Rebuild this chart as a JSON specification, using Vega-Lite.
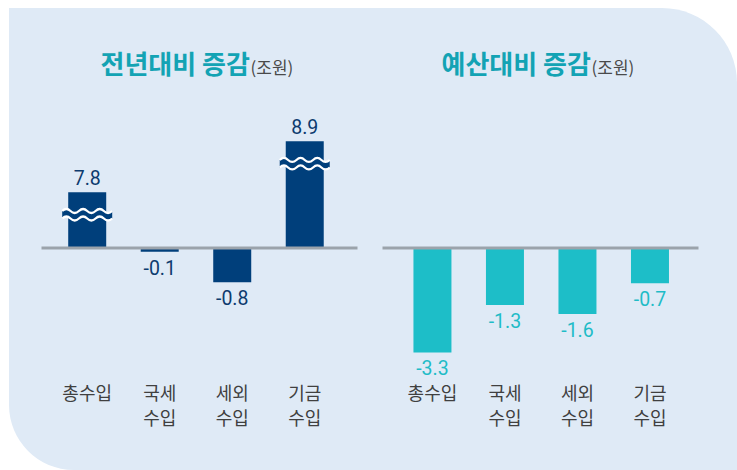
{
  "$schema": "https://vega.github.io/schema/vega-lite/v6.json",
  "width": 728,
  "height": 462,
  "padding": {"left": 9, "top": 8, "right": 0, "bottom": 0},
  "autosize": "none",
  "background": "white",
  "config": {
    "view": {"fill": "#dfeaf6", "stroke": null},
    "style": {"cell": {"fill": "#dfeaf6", "stroke": null, "cornerRadiusTopRight": 75, "cornerRadiusBottomLeft": 65}},
    "font": "Noto Sans CJK KR"
  },
  "datasets": {
    "prev": [
      {"cat": "총수입", "value": 7.8},
      {"cat": "국세수입", "value": -0.1},
      {"cat": "세외수입", "value": -0.8},
      {"cat": "기금수입", "value": 8.9}
    ],
    "budget": [
      {"cat": "총수입", "value": -3.3},
      {"cat": "국세수입", "value": -1.3},
      {"cat": "세외수입", "value": -1.6},
      {"cat": "기금수입", "value": -0.7}
    ]
  },
  "layer": [
    {
      "data": {"name": "prev"},
      "encoding": {
        "x": {
          "field": "cat", "type": "nominal", "sort": null,
          "scale": {"domain": ["총수입", "국세수입", "세외수입", "기금수입"], "range": [32, 348], "paddingInner": 0.476, "paddingOuter": 0.417, "align": 0.45},
          "axis": {
            "orient": "bottom", "offset": -222.5, "zindex": 1, "grid": false,
            "domain": true, "domainColor": "#9ba3ab", "domainWidth": 3, "domainCap": "butt",
            "ticks": false, "tickSize": 0,
            "labelPadding": 138, "labelFont": "Noto Sans CJK KR", "labelFontSize": 18, "labelColor": "#404040", "labelLineHeight": 25, "labelOverlap": false, "labelBound": false, "labelAngle": 0, "labelBaseline": "top",
            "labelExpr": "length(datum.value) == 4 ? [substring(datum.value, 0, 2), substring(datum.value, 2, 4)] : datum.value",
            "title": "전년대비 증감", "titleFont": "Noto Sans CJK KR", "titleFontSize": 26, "titleFontWeight": "bold", "titleColor": "#13a3b4",
            "titleX": 91, "titleY": -174.5, "titleAlign": "left", "titleBaseline": "alphabetic", "titleAngle": 0
          }
        },
        "y": {
          "field": "value", "type": "quantitative",
          "scale": {"domain": [-5.127, 0, 6.61, 11.77], "range": [462, 239.5, 239.5, 0], "zero": false, "nice": false},
          "axis": {
            "orient": "left", "domain": false, "ticks": false, "labels": false, "grid": false,
            "title": "(조원)", "titleFont": "Noto Sans CJK KR", "titleFontSize": 17, "titleFontWeight": "normal", "titleColor": "#4a4a4a",
            "titleAngle": 0, "titleX": 241, "titleY": 65, "titleAlign": "left", "titleBaseline": "alphabetic"
          }
        }
      },
      "layer": [
        {"mark": {"type": "bar", "color": "#003f7b"}, "encoding": {"y2": {"datum": 0}}},
        {
          "transform": [{"filter": "datum.value > 5"}],
          "mark": {"type": "point", "shape": "M-1,0.75 Q-0.833,0.59 -0.667,0.75 T-0.333,0.75 T0,0.75 T0.333,0.75 T0.667,0.75 T1,0.75 L1,1.05 Q0.833,1.21 0.667,1.05 T0.333,1.05 T0,1.05 T-0.333,1.05 T-0.667,1.05 T-1,1.05 Z", "size": 2500, "filled": true, "color": "#003f7b", "strokeWidth": 0, "opacity": 1}
        },
        {
          "transform": [{"filter": "datum.value > 5"}],
          "mark": {"type": "point", "shape": "M-1,0.75 Q-0.833,0.59 -0.667,0.75 T-0.333,0.75 T0,0.75 T0.333,0.75 T0.667,0.75 T1,0.75 M-1,1.05 Q-0.833,0.89 -0.667,1.05 T-0.333,1.05 T0,1.05 T0.333,1.05 T0.667,1.05 T1,1.05", "size": 2500, "filled": false, "color": "white", "strokeWidth": 2.2, "opacity": 1}
        },
        {
          "transform": [{"filter": "datum.value > 0"}],
          "mark": {"type": "text", "baseline": "alphabetic", "dy": -7, "font": "Roboto", "fontSize": 19.5, "color": "#0d3b6e"},
          "encoding": {"text": {"field": "value", "type": "nominal"}}
        },
        {
          "transform": [{"filter": "datum.value < 0"}],
          "mark": {"type": "text", "baseline": "alphabetic", "dy": 23, "font": "Roboto", "fontSize": 19.5, "color": "#0d3b6e"},
          "encoding": {"text": {"field": "value", "type": "nominal"}}
        }
      ]
    },
    {
      "data": {"name": "budget"},
      "encoding": {
        "x": {
          "field": "cat", "type": "nominal", "sort": null,
          "scale": {"domain": ["총수입", "국세수입", "세외수입", "기금수입"], "range": [373, 689], "paddingInner": 0.476, "paddingOuter": 0.417, "align": 0.52},
          "axis": {
            "orient": "bottom", "offset": -222.5, "zindex": 1, "grid": false,
            "domain": true, "domainColor": "#9ba3ab", "domainWidth": 3, "domainCap": "butt",
            "ticks": false, "tickSize": 0,
            "labelPadding": 138, "labelFont": "Noto Sans CJK KR", "labelFontSize": 18, "labelColor": "#404040", "labelLineHeight": 25, "labelOverlap": false, "labelBound": false, "labelAngle": 0, "labelBaseline": "top",
            "labelExpr": "length(datum.value) == 4 ? [substring(datum.value, 0, 2), substring(datum.value, 2, 4)] : datum.value",
            "title": "예산대비 증감", "titleFont": "Noto Sans CJK KR", "titleFontSize": 26, "titleFontWeight": "bold", "titleColor": "#13a3b4",
            "titleX": 432, "titleY": -174.5, "titleAlign": "left", "titleBaseline": "alphabetic", "titleAngle": 0
          }
        },
        "y": {
          "field": "value", "type": "quantitative",
          "scale": {"type": "symlog", "constant": 1.3, "domain": [-17.67, 21.98], "zero": false, "nice": false},
          "axis": {
            "orient": "left", "domain": false, "ticks": false, "labels": false, "grid": false,
            "title": "(조원)", "titleFont": "Noto Sans CJK KR", "titleFontSize": 17, "titleFontWeight": "normal", "titleColor": "#4a4a4a",
            "titleAngle": 0, "titleX": 582, "titleY": 65, "titleAlign": "left", "titleBaseline": "alphabetic"
          }
        }
      },
      "layer": [
        {"mark": {"type": "bar", "color": "#1dbec8"}, "encoding": {"y2": {"datum": 0}}},
        {
          "mark": {"type": "text", "baseline": "alphabetic", "dy": 23, "font": "Roboto", "fontSize": 19.5, "color": "#1fbcc7"},
          "encoding": {"text": {"field": "value", "type": "nominal"}}
        }
      ]
    }
  ],
  "resolve": {
    "scale": {"x": "independent", "y": "independent"},
    "axis": {"x": "independent", "y": "independent"}
  }
}
